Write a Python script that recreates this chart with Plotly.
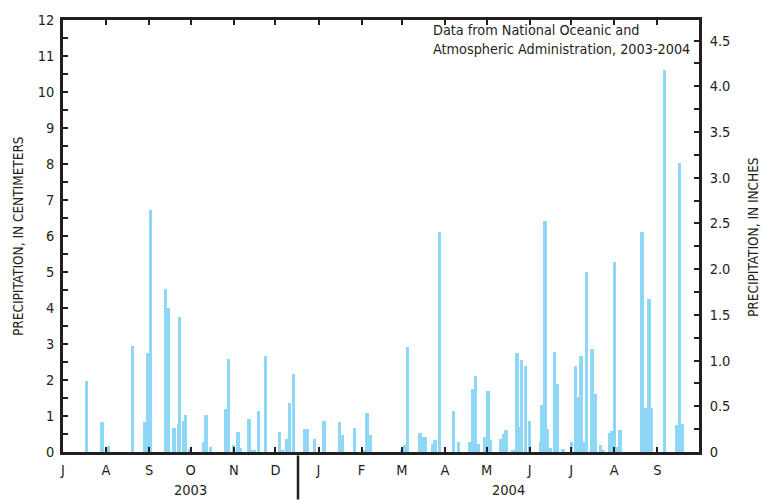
import plotly.graph_objects as go

# Daily precipitation, centimeters
dates = [
    "2003-07-18", "2003-07-29", "2003-08-03", "2003-08-20", "2003-08-29", "2003-08-30", "2003-08-31",
    "2003-09-02", "2003-09-13", "2003-09-15", "2003-09-19", "2003-09-22", "2003-09-23", "2003-09-26",
    "2003-09-27", "2003-09-30", "2003-10-10", "2003-10-12", "2003-10-15", "2003-10-26", "2003-10-28",
    "2003-11-01", "2003-11-04", "2003-11-06", "2003-11-12", "2003-11-14", "2003-11-16", "2003-11-19",
    "2003-11-24", "2003-12-04", "2003-12-06", "2003-12-09", "2003-12-11", "2003-12-14", "2003-12-22",
    "2003-12-24", "2003-12-29", "2004-01-05", "2004-01-16", "2004-01-18", "2004-01-27", "2004-02-02",
    "2004-02-05", "2004-02-07", "2004-03-01", "2004-03-03", "2004-03-05", "2004-03-14", "2004-03-16",
    "2004-03-18", "2004-03-23", "2004-03-25", "2004-03-28", "2004-04-07", "2004-04-11", "2004-04-19",
    "2004-04-21", "2004-04-23", "2004-04-25", "2004-04-30", "2004-05-02", "2004-05-04", "2004-05-11",
    "2004-05-13", "2004-05-15", "2004-05-20", "2004-05-23", "2004-05-25", "2004-05-26", "2004-05-29",
    "2004-06-01", "2004-06-09", "2004-06-10", "2004-06-12", "2004-06-14", "2004-06-16", "2004-06-19",
    "2004-06-21", "2004-06-25", "2004-07-01", "2004-07-04", "2004-07-06", "2004-07-08", "2004-07-10",
    "2004-07-12", "2004-07-16", "2004-07-18", "2004-07-22", "2004-07-24", "2004-07-29", "2004-07-30",
    "2004-08-01", "2004-08-03", "2004-08-05", "2004-08-21", "2004-08-23", "2004-08-26", "2004-08-28",
    "2004-09-06", "2004-09-15", "2004-09-17", "2004-09-19",
]
precip_cm = [
    1.97, 0.84, 0.18, 2.94, 0.84, 0.13, 2.75,
    6.71, 4.54, 3.99, 0.67, 0.79, 3.75, 0.87,
    1.03, 0.08, 0.28, 1.03, 0.13, 1.19, 2.59,
    0.20, 0.56, 0.10, 0.91, 0.06, 0.06, 1.14,
    2.67, 0.56, 0.06, 0.37, 1.35, 2.16, 0.65,
    0.64, 0.37, 0.87, 0.84, 0.48, 0.68, 0.06,
    1.08, 0.48, 0.05, 0.20, 2.93, 0.53, 0.41,
    0.41, 0.21, 0.32, 6.10, 1.15, 0.29, 0.29,
    1.74, 2.12, 0.21, 0.41, 1.69, 0.32, 0.37,
    0.49, 0.60, 0.06, 2.75, 0.70, 2.55, 2.40,
    0.87, 0.29, 1.30, 6.41, 0.64, 0.10, 2.79,
    1.88, 0.09, 0.28, 2.40, 1.53, 2.67, 0.29,
    4.99, 2.86, 1.60, 0.20, 0.05, 0.52, 0.59,
    5.27, 0.15, 0.60, 6.10, 1.22, 4.26, 1.22,
    10.60, 0.75, 8.03, 0.78,
]

month_starts = [
    "2003-07-01", "2003-08-01", "2003-09-01", "2003-10-01", "2003-11-01", "2003-12-01",
    "2004-01-01", "2004-02-01", "2004-03-01", "2004-04-01", "2004-05-01", "2004-06-01",
    "2004-07-01", "2004-08-01", "2004-09-01",
]
month_labels = ["J", "A", "S", "O", "N", "D", "J", "F", "M", "A", "M", "J", "J", "A", "S"]

cm_ticks = list(range(0, 13))
inch_ticks = [0, 0.5, 1.0, 1.5, 2.0, 2.5, 3.0, 3.5, 4.0, 4.5]
inch_labels = ["0", "0.5", "1.0", "1.5", "2.0", "2.5", "3.0", "3.5", "4.0", "4.5"]

FONT = "Liberation Sans Narrow, DejaVu Sans Condensed, Arial Narrow, Liberation Sans, sans-serif"
TXT = "#231f20"
BAR = "#8ed7f7"
DAY_MS = 86400000

fig = go.Figure()
fig.add_trace(go.Bar(
    x=dates, y=precip_cm,
    width=[2.4 * DAY_MS] * len(dates),
    marker=dict(color=BAR, line=dict(width=0)),
    showlegend=False, hoverinfo="x+y",
))
# invisible trace to anchor the inches axis
fig.add_trace(go.Scatter(
    x=[dates[0]], y=[0], yaxis="y2", mode="markers",
    marker=dict(opacity=0), showlegend=False, hoverinfo="skip",
))

fig.update_layout(
    width=761, height=502,
    margin=dict(l=63, r=62, t=15, b=50),
    paper_bgcolor="white", plot_bgcolor="white",
    font=dict(family=FONT, size=14, color=TXT),
    bargap=0,
    xaxis=dict(
        type="date", range=["2003-07-01", "2004-10-01"],
        tickvals=month_starts, ticktext=month_labels,
        ticks="inside", ticklen=5, tickwidth=1.5, tickcolor=TXT,
        showline=True, linewidth=2.5, linecolor=TXT, mirror="ticks",
        showgrid=False, zeroline=False, ticklabelstandoff=3,
        tickfont=dict(size=14.5),
    ),
    yaxis=dict(
        range=[0, 12], tickvals=cm_ticks,
        ticks="inside", ticklen=5, tickwidth=1.5, tickcolor=TXT,
        minor=dict(dtick=0.5, ticks="inside", ticklen=5, tickwidth=1.5, tickcolor=TXT, showgrid=False),
        showline=True, linewidth=2.5, linecolor=TXT,
        showgrid=False, zeroline=False, ticklabelstandoff=3,
        tickfont=dict(size=14.5),
    ),
    yaxis2=dict(
        range=[0, 12 / 2.54], overlaying="y", side="right",
        tickvals=inch_ticks, ticktext=inch_labels,
        ticks="inside", ticklen=5, tickwidth=1.5, tickcolor=TXT,
        minor=dict(dtick=0.25, ticks="inside", ticklen=5, tickwidth=1.5, tickcolor=TXT, showgrid=False),
        showline=True, linewidth=2.5, linecolor=TXT,
        showgrid=False, zeroline=False, ticklabelstandoff=5,
        tickfont=dict(size=14.5),
    ),
)

annos = [
    dict(text="PRECIPITATION, IN CENTIMETERS", x=-0.0708, y=0.5, textangle=-90,
         xanchor="center", yanchor="middle", font=dict(size=13.5)),
    dict(text="PRECIPITATION, IN INCHES", x=1.086, y=0.497, textangle=-90,
         xanchor="center", yanchor="middle", font=dict(size=13.5)),
    dict(text="2003", x=0.201, y=-0.087, xanchor="center", yanchor="middle", font=dict(size=14.5)),
    dict(text="2004", x=0.701, y=-0.087, xanchor="center", yanchor="middle", font=dict(size=14.5)),
    dict(text="Data from National Oceanic and<br>Atmospheric Administration, 2003-2004",
         x=0.5786, y=0.999, xanchor="left", yanchor="top", align="left", font=dict(size=14.3)),
]
for a in annos:
    a.update(xref="paper", yref="paper", showarrow=False)
    fig.add_annotation(**a)

fig.add_shape(type="line", xref="paper", yref="paper",
              x0=0.3695, x1=0.3695, y0=-0.008, y1=-0.11,
              line=dict(color=TXT, width=2.5))

fig.write_html("out.html")
